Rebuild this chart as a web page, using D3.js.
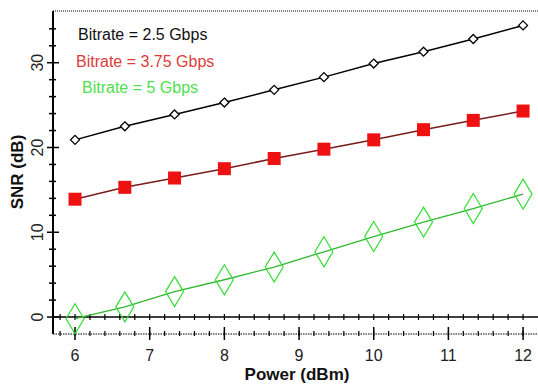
<!DOCTYPE html>
<html>
<head>
<meta charset="utf-8">
<script src="https://cdn.jsdelivr.net/npm/d3@7"></script>
<style>
  html, body { margin: 0; padding: 0; background: #fff; }
  svg { display: block; font-family: "Liberation Sans", Arial, sans-serif; }
</style>
</head>
<body>
<svg id="chart" width="538" height="387"></svg>
<script>
// Power sweep (dBm)
const power = [6, 6.667, 7.333, 8, 8.667, 9.333, 10, 10.667, 11.333, 12];

// SNR (dB) per bitrate
const snr25 = [20.9, 22.5, 23.9, 25.3, 26.8, 28.3, 29.9, 31.3, 32.8, 34.4];
const snr375 = [13.9, 15.3, 16.4, 17.5, 18.7, 19.8, 20.9, 22.1, 23.2, 24.3];
const snr5 = [-0.2, 1.2, 3.0, 4.4, 5.9, 7.7, 9.5, 11.2, 12.8, 14.5];

const seriesNames = ["Bitrate = 2.5 Gbps", "Bitrate = 3.75 Gbps", "Bitrate = 5 Gbps"];
const xTicks = [6, 7, 8, 9, 10, 11, 12];
const yTicks = [0, 10, 20, 30];

const svg = d3.select("#chart");
const plotL = 53, plotR = 538, plotT = 11, plotB = 334;

const x = d3.scaleLinear().domain([5.705, 12.2]).range([plotL, plotR]);
const y = d3.scaleLinear().domain([-2, 36.1]).range([plotB, plotT]);

// frame: dotted top and bottom borders
svg.append("line").attr("x1", plotL).attr("x2", plotR).attr("y1", plotT).attr("y2", plotT)
  .attr("stroke", "#000").attr("stroke-width", 1).attr("stroke-dasharray", "1,1");
svg.append("line").attr("x1", plotL).attr("x2", plotR).attr("y1", plotB).attr("y2", plotB)
  .attr("stroke", "#000").attr("stroke-width", 1.2).attr("stroke-dasharray", "1.5,1");

// left axis
const yAxis = svg.append("g");
yAxis.append("line").attr("x1", plotL).attr("x2", plotL).attr("y1", plotT).attr("y2", plotB)
  .attr("stroke", "#000").attr("stroke-width", 2);
const yMinor = d3.range(0, 36, 2).filter(v => v % 10 !== 0);
yAxis.selectAll(".ymin").data(yMinor).join("line")
  .attr("x1", plotL - 4).attr("x2", plotL + 3)
  .attr("y1", d => y(d)).attr("y2", d => y(d))
  .attr("stroke", "#000").attr("stroke-width", 1.5);
yAxis.selectAll(".ymaj").data(yTicks).join("line")
  .attr("x1", plotL - 6).attr("x2", plotL + 6)
  .attr("y1", d => y(d)).attr("y2", d => y(d))
  .attr("stroke", "#000").attr("stroke-width", 1.5);
yAxis.selectAll(".ylab").data(yTicks).join("text")
  .attr("transform", d => `translate(43,${y(d)}) rotate(-90)`)
  .attr("text-anchor", "middle")
  .attr("font-size", 16)
  .attr("fill", "#222")
  .text(d => d);

// horizontal zero line with small crossing ticks
const zeroY = y(0);
svg.append("line").attr("x1", plotL).attr("x2", plotR).attr("y1", zeroY).attr("y2", zeroY)
  .attr("stroke", "#000").attr("stroke-width", 1.5);
const fine = d3.range(0, 33).map(i => 5.8 + i * 0.2).filter(v => x(v) > plotL + 2 && x(v) < plotR);
svg.selectAll(".ztick").data(fine).join("line")
  .attr("x1", d => x(d)).attr("x2", d => x(d))
  .attr("y1", zeroY - 3).attr("y2", zeroY + 3)
  .attr("stroke", "#000").attr("stroke-width", 1.2);

// bottom axis ticks
svg.selectAll(".bmin").data(fine).join("line")
  .attr("x1", d => x(d)).attr("x2", d => x(d))
  .attr("y1", plotB - 3).attr("y2", plotB + 2)
  .attr("stroke", "#000").attr("stroke-width", 1.2);
svg.selectAll(".bmaj").data(xTicks).join("line")
  .attr("x1", d => x(d)).attr("x2", d => x(d))
  .attr("y1", plotB - 7).attr("y2", plotB + 6)
  .attr("stroke", "#000").attr("stroke-width", 1.5);
svg.selectAll(".xlab").data(xTicks).join("text")
  .attr("x", d => x(d)).attr("y", 361)
  .attr("text-anchor", "middle")
  .attr("font-size", 16)
  .attr("fill", "#222")
  .text(d => d);

// axis titles
svg.append("text").attr("x", 297).attr("y", 380)
  .attr("text-anchor", "middle").attr("font-size", 17).attr("font-weight", "bold")
  .attr("fill", "#111").text("Power (dBm)");
svg.append("text").attr("transform", "translate(23,172) rotate(-90)")
  .attr("text-anchor", "middle").attr("font-size", 17).attr("font-weight", "bold")
  .attr("fill", "#111").text("SNR (dB)");

const line = d3.line().x(d => x(d[0])).y(d => y(d[1]));
const pts = vals => power.map((p, i) => [p, vals[i]]);

// 5 Gbps: green line, tall open diamonds
svg.append("path").datum(pts(snr5)).attr("d", line)
  .attr("fill", "none").attr("stroke", "#2fb82f").attr("stroke-width", 1.3);
svg.selectAll(".dia").data(pts(snr5)).join("path")
  .attr("d", d => {
    const cx = x(d[0]), cy = y(d[1]), w = 9, h = 15;
    return `M${cx},${cy - h}L${cx + w},${cy}L${cx},${cy + h}L${cx - w},${cy}Z`;
  })
  .attr("fill", "none").attr("stroke", "#33dd33").attr("stroke-width", 1.2);

// 3.75 Gbps: dark red line, filled red squares
svg.append("path").datum(pts(snr375)).attr("d", line)
  .attr("fill", "none").attr("stroke", "#7a1c1c").attr("stroke-width", 1.5);
svg.selectAll(".sq").data(pts(snr375)).join("rect")
  .attr("x", d => x(d[0]) - 6.5).attr("y", d => y(d[1]) - 6.5)
  .attr("width", 13).attr("height", 13)
  .attr("fill", "#ee1111");

// 2.5 Gbps: black line, small open diamonds
svg.append("path").datum(pts(snr25)).attr("d", line)
  .attr("fill", "none").attr("stroke", "#000").attr("stroke-width", 1.5);
svg.selectAll(".od").data(pts(snr25)).join("path")
  .attr("d", d => {
    const cx = x(d[0]), cy = y(d[1]), r = 4.5;
    return `M${cx},${cy - r}L${cx + r},${cy}L${cx},${cy + r}L${cx - r},${cy}Z`;
  })
  .attr("fill", "#fff").attr("stroke", "#000").attr("stroke-width", 1.3);

// legend text
const legendColors = ["#111", "#dd3c3c", "#4ee04e"];
const legendPos = [[78, 40], [76, 67], [82, 93]];
svg.selectAll(".leg").data(seriesNames).join("text")
  .attr("x", (d, i) => legendPos[i][0]).attr("y", (d, i) => legendPos[i][1])
  .attr("font-size", 16)
  .attr("fill", (d, i) => legendColors[i])
  .text(d => d);
</script>
</body>
</html>
